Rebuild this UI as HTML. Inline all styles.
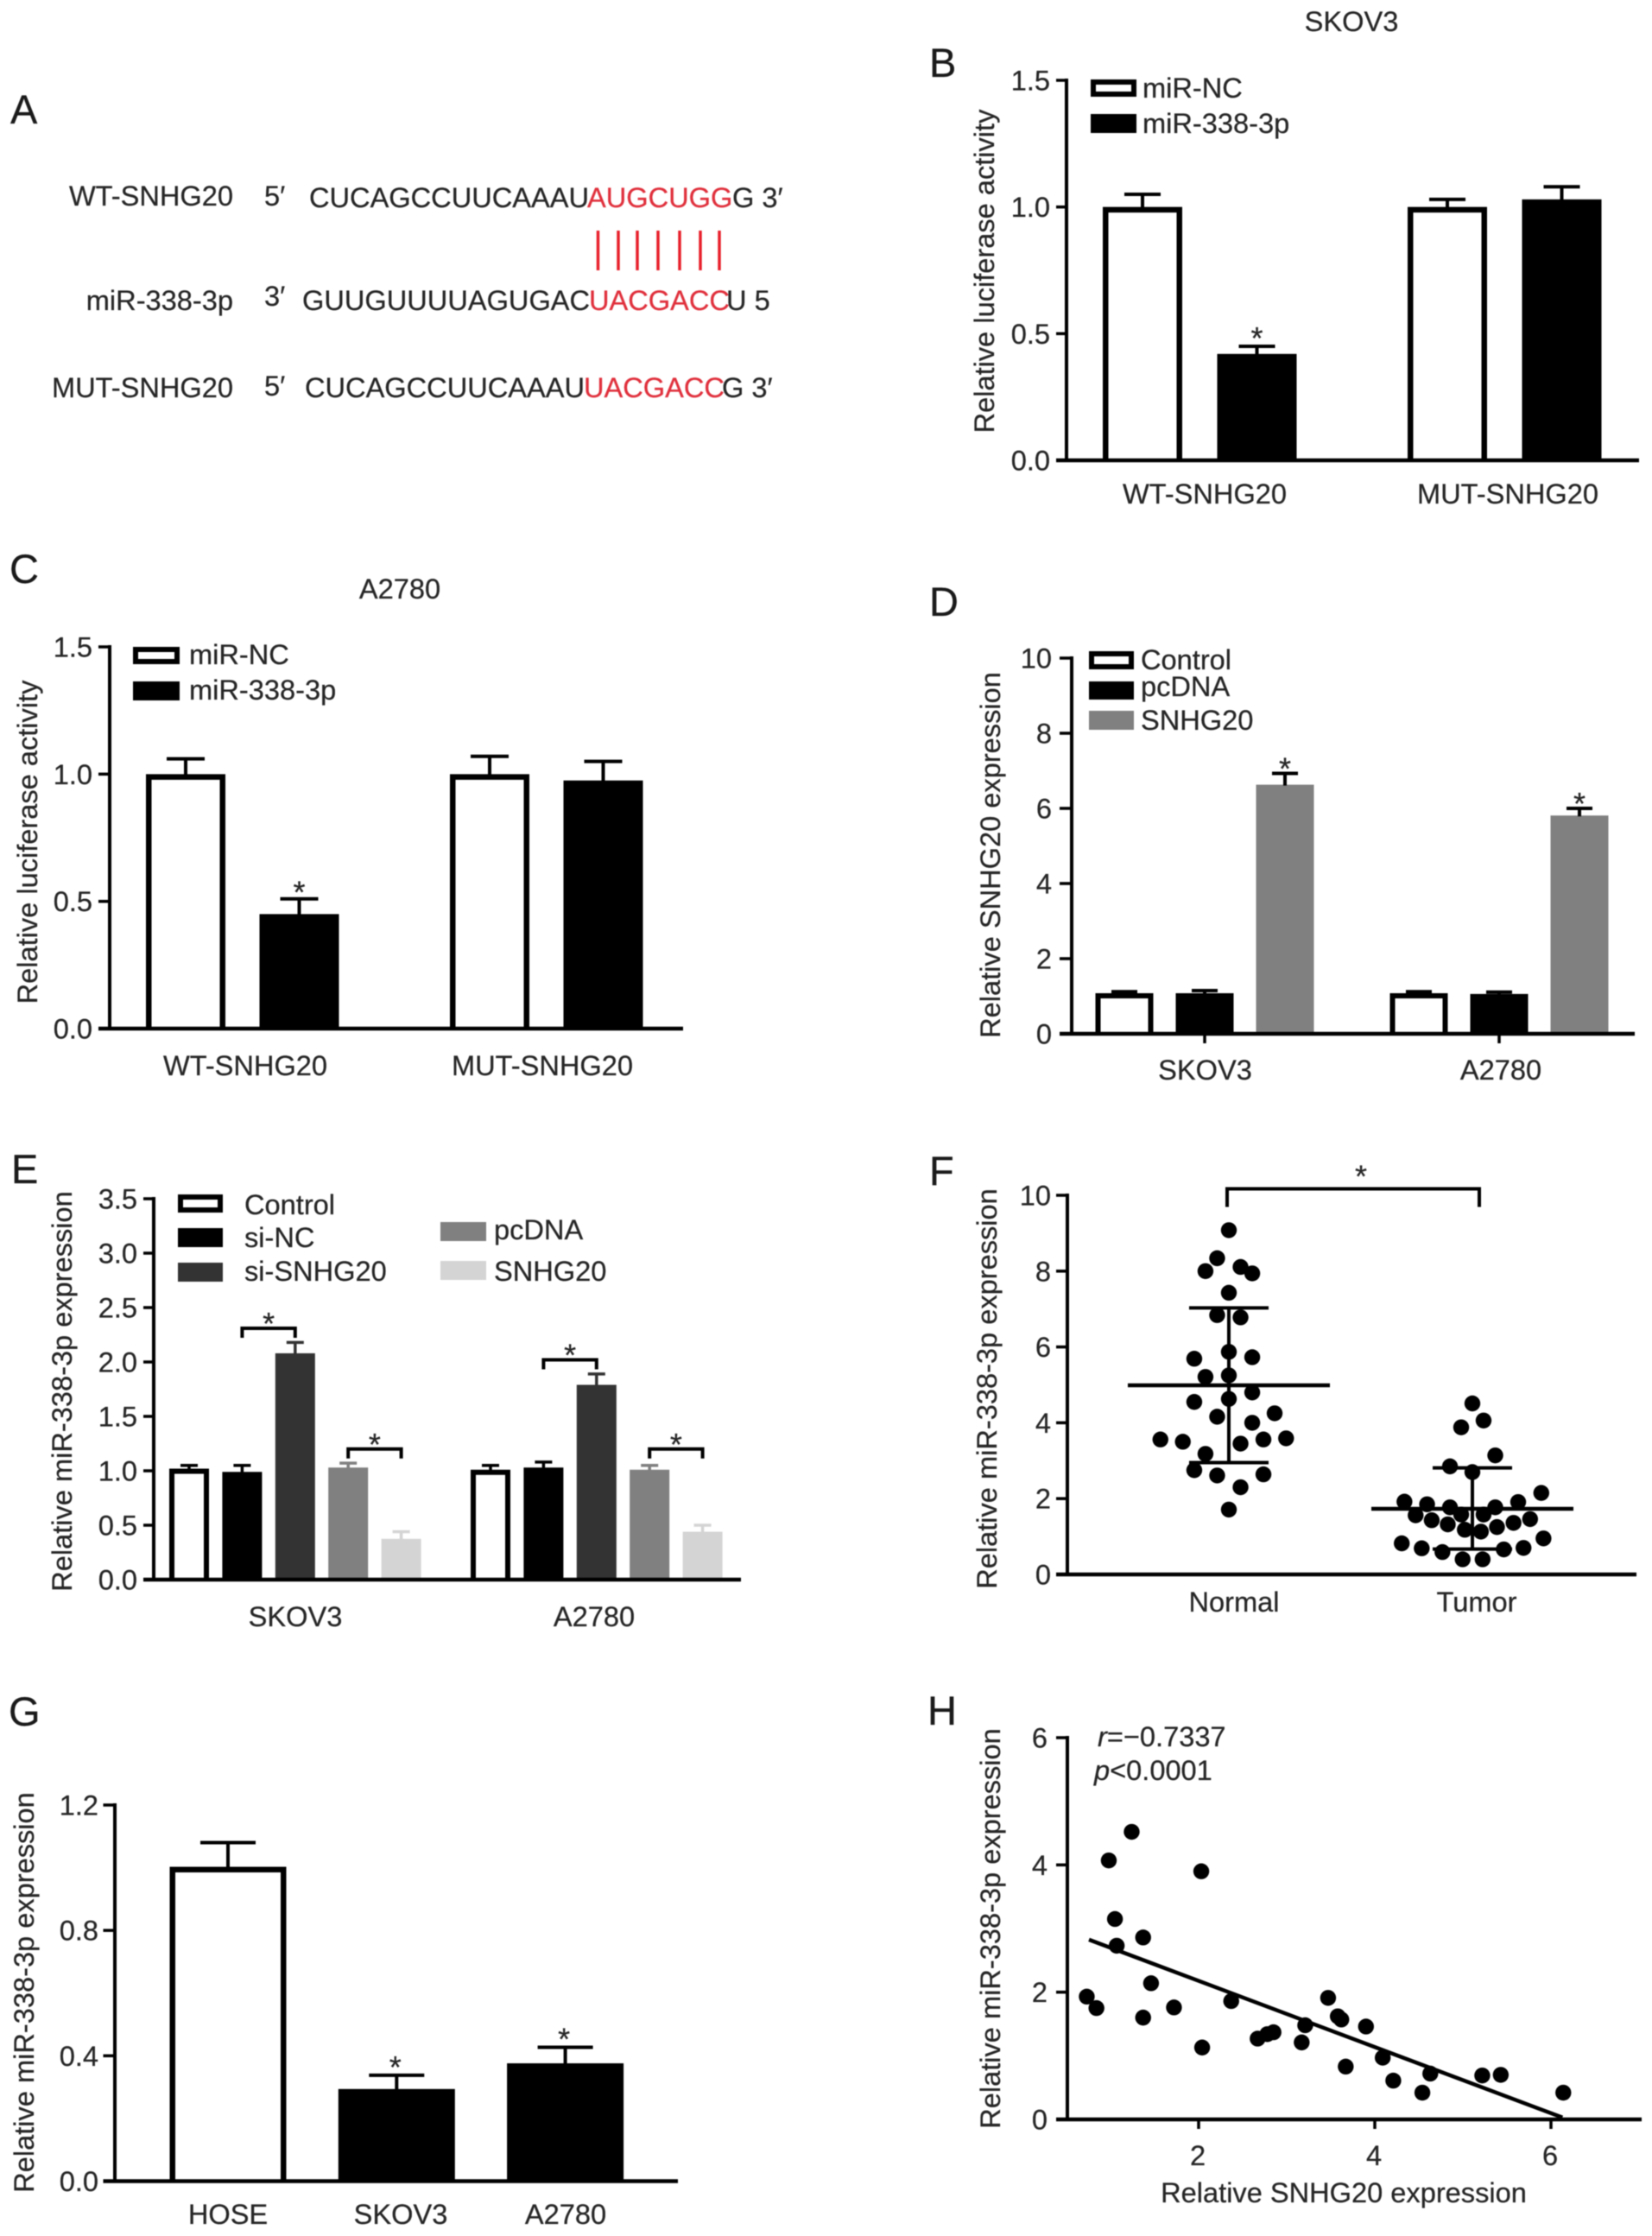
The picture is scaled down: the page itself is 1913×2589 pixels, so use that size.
<!DOCTYPE html>
<html lang="en">
<head>
<meta charset="utf-8">
<title>SNHG20 and miR-338-3p figure</title>
<style>
html,body{margin:0;padding:0;background:#fff;}
svg{display:block;filter:blur(0.5px);}
text{font-family:"Liberation Sans",Arial,sans-serif;font-size:32.6px;fill:#262626;stroke:#262626;stroke-width:0.25px;}
.letter{font-size:47px;fill:#1a1a1a;stroke:#1a1a1a;}
.red{fill:#e0303c;stroke:#e0303c;}
</style>
</head>
<body>
<svg id="figure" xmlns="http://www.w3.org/2000/svg" width="1913" height="2589" viewBox="0 0 1913 2589">
<rect x="0" y="0" width="1913" height="2589" fill="#fff"/>
<text class="letter" x="12" y="143">A</text>
<text class="letter" x="1076" y="89">B</text>
<text class="letter" x="11" y="675">C</text>
<text class="letter" x="1076" y="713">D</text>
<text class="letter" x="13" y="1370">E</text>
<text class="letter" x="1076" y="1372">F</text>
<text class="letter" x="10" y="1998">G</text>
<text class="letter" x="1074" y="1997">H</text>

<g id="panel-a">
<text x="270" y="238" text-anchor="end">WT-SNHG20</text>
<text x="306" y="238">5′</text>
<text x="358" y="240">CUCAGCCUUCAAAU</text>
<text class="red" x="680" y="240">AUGCUGG</text>
<text x="848" y="240">G 3′</text>
<g stroke="#e8202c" stroke-width="3.5">
<line x1="692.5" y1="267" x2="692.5" y2="313"/>
<line x1="716" y1="267" x2="716" y2="313"/>
<line x1="738" y1="267" x2="738" y2="313"/>
<line x1="762" y1="267" x2="762" y2="313"/>
<line x1="787" y1="267" x2="787" y2="313"/>
<line x1="811" y1="267" x2="811" y2="313"/>
<line x1="833" y1="267" x2="833" y2="313"/>
</g>
<text x="270" y="359" text-anchor="end">miR-338-3p</text>
<text x="306" y="354">3′</text>
<text x="350" y="359">GUUGUUUUAGUGAC</text>
<text class="red" x="682" y="359">UACGACC</text>
<text x="841" y="359">U 5</text>
<text x="270" y="460" text-anchor="end">MUT-SNHG20</text>
<text x="306" y="458">5′</text>
<text x="353" y="460">CUCAGCCUUCAAAU</text>
<text class="red" x="676" y="460">UACGACC</text>
<text x="836" y="460">G 3′</text>
</g>
</svg>

<script>
/* ---------- Panel B ---------- */
const bCategories = ['WT-SNHG20', 'MUT-SNHG20'];
const bSeriesNames = ['miR-NC', 'miR-338-3p'];
const bMeans = [[1.0, 0.42], [1.0, 1.03]];
const bErrTops = [[1.05, 0.45], [1.03, 1.08]];
const bStars = [[0, 1], [0, 0]];
const bTicks = [0, 0.5, 1.0, 1.5];
const bTickLabels = ['0.0', '0.5', '1.0', '1.5'];

/* ---------- Panel C ---------- */
const cCategories = ['WT-SNHG20', 'MUT-SNHG20'];
const cSeriesNames = ['miR-NC', 'miR-338-3p'];
const cMeans = [[1.0, 0.45], [1.0, 0.975]];
const cErrTops = [[1.06, 0.51], [1.07, 1.05]];
const cStars = [[0, 1], [0, 0]];
const cTicks = [0, 0.5, 1.0, 1.5];
const cTickLabels = ['0.0', '0.5', '1.0', '1.5'];

/* ---------- Panel D ---------- */
const dCategories = ['SKOV3', 'A2780'];
const dSeriesNames = ['Control', 'pcDNA', 'SNHG20'];
const dMeans = [[1.08, 1.08, 6.63], [1.08, 1.06, 5.81]];
const dErrTops = [[1.12, 1.15, 6.93], [1.12, 1.11, 6.0]];
const dStars = [[0, 0, 1], [0, 0, 1]];
const dTicks = [0, 2, 4, 6, 8, 10];
const dTickLabels = ['0', '2', '4', '6', '8', '10'];

/* ---------- Panel E ---------- */
const eCategories = ['SKOV3', 'A2780'];
const eSeriesNames = ['Control', 'si-NC', 'si-SNHG20', 'pcDNA', 'SNHG20'];
const eMeans = [[1.02, 0.99, 2.08, 1.03, 0.375], [1.01, 1.03, 1.79, 1.01, 0.44]];
const eErrTops = [[1.05, 1.05, 2.18, 1.07, 0.44], [1.05, 1.08, 1.89, 1.05, 0.50]];
const eTicks = [0, 0.5, 1.0, 1.5, 2.0, 2.5, 3.0, 3.5];
const eTickLabels = ['0.0', '0.5', '1.0', '1.5', '2.0', '2.5', '3.0', '3.5'];
const eBracketGroups = [0, 0, 1, 1];
const eBracketFrom = [1, 3, 1, 3];
const eBracketTo = [2, 4, 2, 4];
const eBracketLevels = [2.31, 1.2, 2.02, 1.2];

/* ---------- Panel F ---------- */
const fCategories = ['Normal', 'Tumor'];
const fTicks = [0, 2, 4, 6, 8, 10];
const fTickLabels = ['0', '2', '4', '6', '8', '10'];
const fNormalValues = [9.08, 8.34, 8.0, 8.11, 7.94, 7.43, 6.84, 6.78, 5.87, 5.69, 5.73, 5.21, 5.25, 4.8, 4.55, 4.63, 4.16, 4.25, 4.0, 3.56, 3.5, 3.45, 3.56, 3.59, 3.18, 2.75, 2.61, 2.64, 2.3, 1.71];
const fNormalJitter = [0, -0.048, -0.096, 0.048, 0.096, 0, -0.048, 0.048, 0, -0.142, 0.096, -0.096, 0, 0.096, -0.142, 0, -0.048, 0.188, 0.096, -0.281, -0.189, 0.048, 0.142, 0.235, -0.096, -0.142, -0.048, 0.142, 0.048, 0];
const fTumorValues = [4.51, 4.06, 3.88, 3.14, 2.85, 2.7, 2.15, 1.92, 1.85, 1.77, 1.77, 1.91, 1.56, 1.58, 1.58, 1.46, 1.43, 1.32, 1.36, 1.25, 1.18, 1.13, 0.95, 0.82, 0.69, 0.59, 0.66, 0.7, 0.4, 0.4];
const fTumorJitter = [0, 0.046, -0.046, 0.094, -0.092, 0, 0.283, -0.279, -0.186, -0.092, 0.094, 0.188, -0.233, -0.046, 0.046, 0.237, -0.167, -0.101, 0.169, 0.101, -0.031, 0.035, 0.292, -0.29, -0.208, -0.123, 0.129, 0.21, -0.04, 0.042];
const fMeans = [4.99, 1.73];
const fSdTops = [7.03, 2.81];
const fSdBottoms = [2.95, 0.67];

/* ---------- Panel G ---------- */
const gCategories = ['HOSE', 'SKOV3', 'A2780'];
const gMeans = [1.003, 0.294, 0.376];
const gErrTops = [1.08, 0.338, 0.427];
const gStars = [0, 1, 1];
const gTicks = [0, 0.4, 0.8, 1.2];
const gTickLabels = ['0.0', '0.4', '0.8', '1.2'];

/* ---------- Panel H ---------- */
const hXValues = [0.73, 0.84, 0.98, 1.05, 1.07, 1.24, 1.37, 1.37, 1.46, 1.72, 2.03, 2.04, 2.37, 2.67, 2.78, 2.85, 3.17, 3.21, 3.47, 3.58, 3.62, 3.67, 3.9, 4.09, 4.21, 4.54, 4.63, 5.22, 5.43, 6.14];
const hYValues = [1.93, 1.75, 4.07, 3.15, 2.73, 4.52, 2.86, 1.6, 2.14, 1.76, 3.9, 1.13, 1.86, 1.27, 1.34, 1.37, 1.21, 1.48, 1.91, 1.62, 1.57, 0.83, 1.46, 0.97, 0.61, 0.42, 0.72, 0.69, 0.7, 0.42];
const hFitX = [0.755, 6.13];
const hFitY = [2.825, 0.03];
const hYTicks = [0, 2, 4, 6];
const hYTickLabels = ['0', '2', '4', '6'];
const hXTicks = [2, 4, 6];
const hXTickLabels = ['2', '4', '6'];

/* ---------- Drawing helpers ---------- */
const NS = 'http://www.w3.org/2000/svg';
const fig = document.getElementById('figure');

function node(tag, attrs, parent, name) {
  const el = document.createElementNS(NS, tag);
  for (const k in attrs) el.setAttribute(k, attrs[k]);
  
  
  parent.appendChild(el);
  return el;
}
function line(parent, name, x1, y1, x2, y2, w, color) {
  return node('line', {x1: x1, y1: y1, x2: x2, y2: y2, stroke: color || '#000', 'stroke-width': w}, parent, name);
}
function label(parent, name, str, x, y, anchor) {
  const el = node('text', {x: x, y: y, 'text-anchor': anchor || 'middle'}, parent, name);
  el.textContent = str;
  return el;
}
function rotatedLabel(parent, name, str, x, yCenter) {
  const el = node('text', {x: x, y: yCenter, 'text-anchor': 'middle', transform: 'rotate(-90 ' + x + ' ' + yCenter + ')'}, parent, name);
  el.textContent = str;
  return el;
}
function star(parent, x, yCenter) {
  const el = node('text', {x: x, y: yCenter + 21, 'text-anchor': 'middle', style: 'font-size:36px'}, parent, 'significance-star');
  el.textContent = '*';
  return el;
}
function outlinedRect(parent, name, x, y, w, h, sw) {
  return node('rect', {x: x + sw / 2, y: y + sw / 2, width: w - sw, height: h - sw, fill: '#fff', stroke: '#000', 'stroke-width': sw}, parent, name);
}
function outlinedBar(parent, name, x, y, w, bottom, sw) {
  const d = 'M' + (x + sw / 2) + ' ' + bottom + 'V' + (y + sw / 2) + 'H' + (x + w - sw / 2) + 'V' + bottom;
  return node('path', {d: d, fill: '#fff', stroke: '#000', 'stroke-width': sw}, parent, name);
}
function filledRect(parent, name, x, y, w, h, color) {
  return node('rect', {x: x, y: y, width: w, height: h, fill: color}, parent, name);
}
function yScale(p, v) {
  return p.y0 - (v / p.yMax) * (p.y0 - p.yTop);
}
function drawAxes(g, p, ticks, tickLabels) {
  line(g, 'y-axis', p.axisX, p.yTop - 2, p.axisX, p.y0 + 2, 4);
  ticks.forEach(function (t, i) {
    const y = yScale(p, t);
    line(g, 'y-tick', p.tickLeft, y, p.axisX, y, 3.5);
    label(g, 'y-tick-label', tickLabels[i], p.labelRight, y + 11.5, 'end');
  });
}
function drawBaseline(g, p) {
  line(g, 'x-axis', p.tickLeft, p.y0, p.xEnd, p.y0, 4.5);
}
function barLeft(p, group, series) {
  return p.firstBar + group * p.groupStep + series * p.barStep;
}
function drawBar(g, p, group, series, mean, errTop, color, errColorOverride) {
  const x = barLeft(p, group, series);
  const top = yScale(p, mean);
  const errY = yScale(p, errTop);
  const cx = x + p.barW / 2;
  const errColor = errColorOverride || (color === 'outline' ? '#000' : color);
  if (color === 'outline') {
    outlinedBar(g, 'bar', x, top, p.barW, p.y0, p.outline);
  } else {
    filledRect(g, 'bar', x, top, p.barW, p.y0 - top, color);
  }
  line(g, 'error-bar-stem', cx, errY, cx, top + 1, p.errW, errColor);
  line(g, 'error-bar-cap', cx - p.capHalf, errY, cx + p.capHalf, errY, p.errW, errColor);
}
function group(name) {
  return node('g', {}, fig, name);
}

/* ---------- Panel B render ---------- */
const pB = {axisX: 1235, tickLeft: 1223, xEnd: 1898, y0: 533, yTop: 93, yMax: 1.5, labelRight: 1216, firstBar: 1277, groupStep: 353, barStep: 132.5, barW: 92, capHalf: 21, errW: 4, outline: 6.5};
const gB = group('luciferase-chart-skov3');
drawAxes(gB, pB, bTicks, bTickLabels);
label(gB, 'chart-title', 'SKOV3', 1565, 36);
rotatedLabel(gB, 'y-axis-title', 'Relative luciferase activity', 1151, 314);
bCategories.forEach(function (c, g) {
  bMeans[g].forEach(function (m, s) {
    drawBar(gB, pB, g, s, m, bErrTops[g][s], s === 0 ? 'outline' : '#000');
    if (bStars[g][s]) star(gB, barLeft(pB, g, s) + pB.barW / 2, yScale(pB, bErrTops[g][s]) - 18);
  });
});
drawBaseline(gB, pB);
label(gB, 'x-tick-label', bCategories[0], 1395, 583);
label(gB, 'x-tick-label', bCategories[1], 1746, 583);
outlinedRect(gB, 'legend-swatch-mir-nc', 1263, 92, 53, 20, 6);
filledRect(gB, 'legend-swatch-mir-338', 1263, 132, 53, 22, '#000');
label(gB, 'legend-entry', bSeriesNames[0], 1323, 113, 'start');
label(gB, 'legend-entry', bSeriesNames[1], 1323, 154, 'start');

/* ---------- Panel C render ---------- */
const pC = {axisX: 127, tickLeft: 114, xEnd: 791, y0: 1191, yTop: 749, yMax: 1.5, labelRight: 107, firstBar: 169, groupStep: 352, barStep: 131.5, barW: 92, capHalf: 22, errW: 4, outline: 6.5};
const gC = group('luciferase-chart-a2780');
drawAxes(gC, pC, cTicks, cTickLabels);
label(gC, 'chart-title', 'A2780', 463, 693);
rotatedLabel(gC, 'y-axis-title', 'Relative luciferase activity', 43, 975);
cCategories.forEach(function (c, g) {
  cMeans[g].forEach(function (m, s) {
    drawBar(gC, pC, g, s, m, cErrTops[g][s], s === 0 ? 'outline' : '#000');
    if (cStars[g][s]) star(gC, barLeft(pC, g, s) + pC.barW / 2, yScale(pC, cErrTops[g][s]) - 16);
  });
});
drawBaseline(gC, pC);
label(gC, 'x-tick-label', cCategories[0], 284, 1245);
label(gC, 'x-tick-label', cCategories[1], 628, 1245);
outlinedRect(gC, 'legend-swatch-mir-nc', 154, 749, 54, 20, 6);
filledRect(gC, 'legend-swatch-mir-338', 154, 789, 54, 22, '#000');
label(gC, 'legend-entry', cSeriesNames[0], 219, 769, 'start');
label(gC, 'legend-entry', cSeriesNames[1], 219, 810, 'start');

/* ---------- Panel D render ---------- */
const pD = {axisX: 1241, tickLeft: 1227, xEnd: 1893, y0: 1197, yTop: 762, yMax: 10, labelRight: 1218, firstBar: 1268.5, groupStep: 341, barStep: 93, barW: 67, capHalf: 15, errW: 4, outline: 6};
const gD = group('snhg20-expression-chart');
const dColors = ['outline', '#000', '#808080'];
drawAxes(gD, pD, dTicks, dTickLabels);
rotatedLabel(gD, 'y-axis-title', 'Relative SNHG20 expression', 1158, 990);
dCategories.forEach(function (c, g) {
  dMeans[g].forEach(function (m, s) {
    drawBar(gD, pD, g, s, m, dErrTops[g][s], dColors[s], '#000');
    if (dStars[g][s]) star(gD, barLeft(pD, g, s) + pD.barW / 2, yScale(pD, dErrTops[g][s]) - 14);
  });
  const tickX = barLeft(pD, g, 1) + pD.barW / 2;
  line(gD, 'x-tick', tickX, pD.y0, tickX, pD.y0 + 11, 3.5);
});
drawBaseline(gD, pD);
label(gD, 'x-tick-label', dCategories[0], 1395.5, 1250);
label(gD, 'x-tick-label', dCategories[1], 1738, 1250);
outlinedRect(gD, 'legend-swatch-control', 1261, 754, 52, 21, 6);
filledRect(gD, 'legend-swatch-pcdna', 1261, 789, 52, 21, '#000');
filledRect(gD, 'legend-swatch-snhg20', 1261, 823, 52, 22, '#808080');
label(gD, 'legend-entry', dSeriesNames[0], 1321, 775, 'start');
label(gD, 'legend-entry', dSeriesNames[1], 1321, 806, 'start');
label(gD, 'legend-entry', dSeriesNames[2], 1321, 845, 'start');

/* ---------- Panel E render ---------- */
const pE = {axisX: 178, tickLeft: 166, xEnd: 858, y0: 1829, yTop: 1388, yMax: 3.5, labelRight: 159, firstBar: 196, groupStep: 349, barStep: 61.4, barW: 46, capHalf: 10, errW: 3.5, outline: 6};
const gE = group('mir338-expression-chart');
const eColors = ['outline', '#000', '#333333', '#808080', '#d4d4d4'];
drawAxes(gE, pE, eTicks, eTickLabels);
rotatedLabel(gE, 'y-axis-title', 'Relative miR-338-3p expression', 83, 1611);
eCategories.forEach(function (c, g) {
  eMeans[g].forEach(function (m, s) {
    drawBar(gE, pE, g, s, m, eErrTops[g][s], eColors[s]);
  });
});
drawBaseline(gE, pE);
eBracketLevels.forEach(function (lvl, i) {
  const xa = barLeft(pE, eBracketGroups[i], eBracketFrom[i]) + pE.barW / 2;
  const xb = barLeft(pE, eBracketGroups[i], eBracketTo[i]) + pE.barW / 2;
  const y = yScale(pE, lvl);
  const d = 'M' + xa + ' ' + (y + 11) + 'V' + y + 'H' + xb + 'V' + (y + 11);
  node('path', {d: d, fill: 'none', stroke: '#000', 'stroke-width': 4}, gE, 'significance-bracket');
  star(gE, (xa + xb) / 2, y - 14);
});
label(gE, 'x-tick-label', eCategories[0], 342, 1883);
label(gE, 'x-tick-label', eCategories[1], 688, 1883);
outlinedRect(gE, 'legend-swatch-control', 206, 1383, 52, 21, 6);
filledRect(gE, 'legend-swatch-si-nc', 206, 1422, 52, 22, '#000');
filledRect(gE, 'legend-swatch-si-snhg20', 206, 1462, 52, 22, '#333333');
filledRect(gE, 'legend-swatch-pcdna', 510, 1415, 53, 22, '#808080');
filledRect(gE, 'legend-swatch-snhg20', 510, 1460, 53, 22, '#d4d4d4');
label(gE, 'legend-entry', eSeriesNames[0], 283, 1406, 'start');
label(gE, 'legend-entry', eSeriesNames[1], 283, 1444, 'start');
label(gE, 'legend-entry', eSeriesNames[2], 283, 1483, 'start');
label(gE, 'legend-entry', eSeriesNames[3], 572, 1435, 'start');
label(gE, 'legend-entry', eSeriesNames[4], 572, 1483, 'start');

/* ---------- Panel F render ---------- */
const pF = {axisX: 1236, tickLeft: 1223, xEnd: 1895, y0: 1823, yTop: 1384, yMax: 10, labelRight: 1217, catStart: 1423, catStep: 282, dotR: 9.2};
function fX(position) {
  return pF.catStart + position * pF.catStep;
}
const gF = group('tissue-scatter-chart');
drawAxes(gF, pF, fTicks, fTickLabels);
drawBaseline(gF, pF);
rotatedLabel(gF, 'y-axis-title', 'Relative miR-338-3p expression', 1154, 1608);
fNormalValues.forEach(function (v, i) {
  node('circle', {cx: fX(fNormalJitter[i]), cy: yScale(pF, v), r: pF.dotR, fill: '#000'}, gF, 'normal-point');
});
fTumorValues.forEach(function (v, i) {
  node('circle', {cx: fX(1 + fTumorJitter[i]), cy: yScale(pF, v), r: pF.dotR, fill: '#000'}, gF, 'tumor-point');
});
fMeans.forEach(function (m, i) {
  const cx = fX(i);
  line(gF, 'mean-line', cx - 117, yScale(pF, m), cx + 117, yScale(pF, m), 4.5);
  line(gF, 'sd-stem', cx, yScale(pF, fSdTops[i]), cx, yScale(pF, fSdBottoms[i]), 4);
  line(gF, 'sd-cap-top', cx - 46, yScale(pF, fSdTops[i]), cx + 46, yScale(pF, fSdTops[i]), 4);
  line(gF, 'sd-cap-bottom', cx - 46, yScale(pF, fSdBottoms[i]), cx + 46, yScale(pF, fSdBottoms[i]), 4);
});
(function () {
  const y = yScale(pF, 10.17);
  const d = 'M' + (fX(0) - 2) + ' ' + (y + 21) + 'V' + y + 'H' + (fX(1) + 8) + 'V' + (y + 21);
  node('path', {d: d, fill: 'none', stroke: '#000', 'stroke-width': 4}, gF, 'significance-bracket');
  star(gF, 1576, y - 23);
})();
label(gF, 'x-tick-label', fCategories[0], 1429, 1866);
label(gF, 'x-tick-label', fCategories[1], 1710, 1866);

/* ---------- Panel G render ---------- */
const pG = {axisX: 133, tickLeft: 119.5, xEnd: 785, y0: 2525.5, yTop: 2090, yMax: 1.2, labelRight: 114, firstBar: 196.5, groupStep: 0, barStep: 195.3, barW: 135, capHalf: 32, errW: 4, outline: 6.5};
const gG = group('cell-line-expression-chart');
drawAxes(gG, pG, gTicks, gTickLabels);
rotatedLabel(gG, 'y-axis-title', 'Relative miR-338-3p expression', 39, 2307);
gMeans.forEach(function (m, i) {
  drawBar(gG, pG, 0, i, m, gErrTops[i], i === 0 ? 'outline' : '#000');
  if (gStars[i]) star(gG, barLeft(pG, 0, i) + pG.barW / 2 - 1.5, yScale(pG, gErrTops[i]) - 18);
});
drawBaseline(gG, pG);
label(gG, 'x-tick-label', gCategories[0], 264, 2575);
label(gG, 'x-tick-label', gCategories[1], 464, 2575);
label(gG, 'x-tick-label', gCategories[2], 655, 2575);

/* ---------- Panel H render ---------- */
const pH = {axisX: 1236, tickLeft: 1223, xEnd: 1901, y0: 2454, yTop: 2012, yMax: 6, labelRight: 1213, xAt2: 1388, xUnit: 102, dotR: 9.2};
function hX(v) {
  return pH.xAt2 + (v - 2) * pH.xUnit;
}
const gH = group('correlation-scatter-chart');
drawAxes(gH, pH, hYTicks, hYTickLabels);
drawBaseline(gH, pH);
hXTicks.forEach(function (t, i) {
  line(gH, 'x-tick', hX(t), pH.y0, hX(t), pH.y0 + 11, 3.5);
  label(gH, 'x-tick-label', hXTickLabels[i], hX(t) - 1, 2507);
});
rotatedLabel(gH, 'y-axis-title', 'Relative miR-338-3p expression', 1158, 2233);
label(gH, 'x-axis-title', 'Relative SNHG20 expression', 1556, 2550);
hXValues.forEach(function (v, i) {
  node('circle', {cx: hX(v), cy: yScale(pH, hYValues[i]), r: pH.dotR, fill: '#000'}, gH, 'scatter-point');
});
line(gH, 'regression-line', hX(hFitX[0]), yScale(pH, hFitY[0]), hX(hFitX[1]), yScale(pH, hFitY[1]), 4.5);
const rStat = node('text', {x: 1271, y: 2022}, gH, 'r-statistic');
rStat.innerHTML = '<tspan font-style="italic">r</tspan>=−0.7337';
const pStat = node('text', {x: 1267, y: 2061}, gH, 'p-statistic');
pStat.innerHTML = '<tspan font-style="italic">p</tspan>&lt;0.0001';
</script>
</body>
</html>
